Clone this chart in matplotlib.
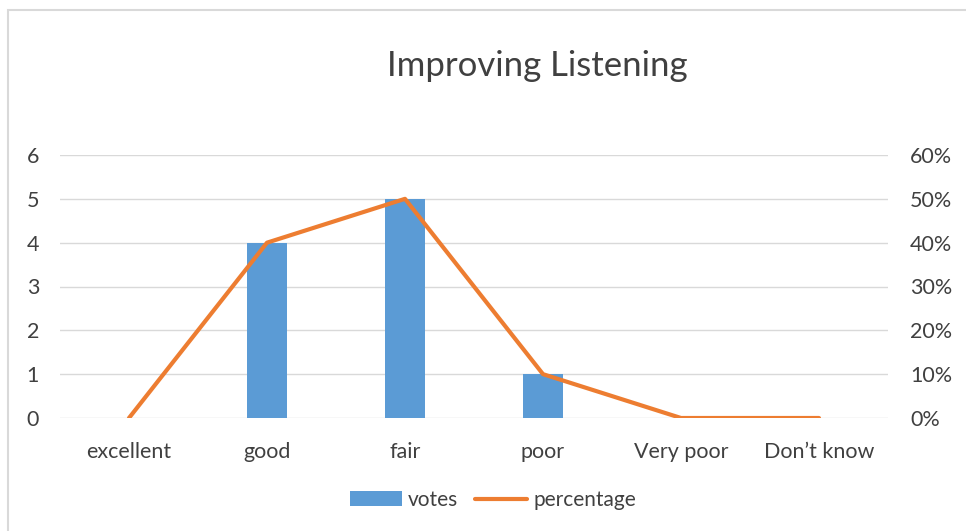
import matplotlib

matplotlib.use("Agg")
import matplotlib.pyplot as plt
from matplotlib.patches import Rectangle
from matplotlib.ticker import PercentFormatter

categories = ["excellent", "good", "fair", "poor", "Very poor", "Don\u2019t know"]
votes = [0, 4, 5, 1, 0, 0]
percentage = [0.0, 0.40, 0.50, 0.10, 0.0, 0.0]

plt.rcParams["font.family"] = ["Lato", "DejaVu Sans"]
text_color = "#404040"

fig = plt.figure(figsize=(9.66, 5.31), dpi=100)
fig.patches.append(Rectangle((8 / 966, -0.1), 1.1, 1 - 10 / 531 + 0.1,
                             transform=fig.transFigure, fill=False,
                             edgecolor="#D9D9D9", linewidth=1.5))

ax = fig.add_axes([60 / 966, 1 - 418 / 531, 828 / 966, 263 / 531])
x = range(len(categories))
ax.bar(x, votes, width=0.29, color="#5B9BD5", label="votes", zorder=2)
ax.set_xlim(-0.5, len(categories) - 0.5)
ax.set_ylim(0, 6)
ax.set_yticks(range(0, 7))
ax.set_xticks(list(x))
ax.set_xticklabels(categories)
ax.yaxis.grid(True, color="#D9D9D9", linewidth=1)
ax.set_axisbelow(True)
for s in ax.spines.values():
    s.set_visible(False)
ax.tick_params(length=0, labelsize=15.5, colors=text_color)
ax.tick_params(axis="x", pad=17)
ax.tick_params(axis="y", pad=15)

ax2 = ax.twinx()
ax2.plot(x, percentage, color="#ED7D31", linewidth=3, label="percentage",
         solid_capstyle="round", zorder=3)
ax2.set_ylim(0, 0.6)
ax2.set_yticks([i / 10 for i in range(7)])
ax2.yaxis.set_major_formatter(PercentFormatter(1.0, decimals=0))
for s in ax2.spines.values():
    s.set_visible(False)
ax2.tick_params(length=0, labelsize=15.5, colors=text_color, pad=16)

fig.text(537 / 966, 1 - 66 / 531, "Improving Listening", ha="center",
         va="center", fontsize=25, color=text_color)

h1, l1 = ax.get_legend_handles_labels()
h2, l2 = ax2.get_legend_handles_labels()
fig.legend(h1 + h2, l1 + l2, loc="center", bbox_to_anchor=(493 / 966, 1 - 500 / 531),
           ncol=2, frameon=False, fontsize=15, labelcolor=text_color,
           handlelength=2.5, columnspacing=0.8, handletextpad=0.3)

plt.savefig("out.png", dpi=100)
